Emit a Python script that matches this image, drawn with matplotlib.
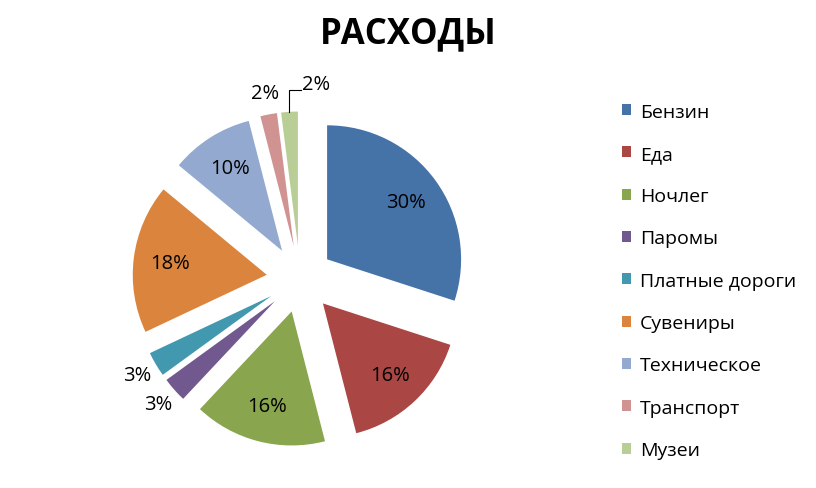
import numpy as np
import matplotlib
matplotlib.use("Agg")
import matplotlib.pyplot as plt

plt.rcParams['font.family'] = ['Open Sans', 'DejaVu Sans']

# Expense shares, in percent
categories = ['Бензин', 'Еда', 'Ночлег', 'Паромы', 'Платные дороги',
              'Сувениры', 'Техническое', 'Транспорт', 'Музеи']
shares = [30, 16, 16, 3, 3, 18, 10, 2, 2]
colours = ['#4572A7', '#AA4643', '#89A54E', '#71588F', '#4198AF',
           '#DB843D', '#93A9CF', '#D19392', '#B9CD96']
# labels of the thin slices go outside the pie
outside = {'Паромы', 'Платные дороги', 'Транспорт', 'Музеи'}

W, H = 816, 489
fig = plt.figure(figsize=(W / 100, H / 100), dpi=100)

# Pie axes: centre at (300, 280) px from top-left, radius 134 px
R = 134.0
cx, cy = 300.0, 280.0
left, right, top, bottom = 100.0, 500.0, 60.0, 480.0
ax = fig.add_axes([left / W, (H - bottom) / H, (right - left) / W, (bottom - top) / H])

explode = [0.25] * len(shares)
wedges, _ = ax.pie(shares, colors=colours, explode=explode, startangle=90,
                   counterclock=False, radius=1.0,
                   wedgeprops=dict(linewidth=0))
ax.set_xlim((left - cx) / R, (right - cx) / R)
ax.set_ylim((cy - bottom) / R, (cy - top) / R)
ax.set_aspect('auto')
ax.axis('off')

for wedge, name, share in zip(wedges, categories, shares):
    theta = np.deg2rad((wedge.theta1 + wedge.theta2) / 2)
    ox, oy = wedge.center
    label = f'{share}%'
    if name not in outside:
        d = 0.73
        ax.text(ox + d * np.cos(theta), oy + d * np.sin(theta), label,
                ha='center', va='center', fontsize=14.5)
    elif name == 'Музеи':
        # leader line: up from the arc, then right to the label
        x0, y0 = ox + np.cos(theta), oy + np.sin(theta)
        y1 = y0 + 0.16
        x1 = x0 + 0.085
        ax.plot([x0, x0, x1], [y0, y1, y1], color='black', lw=0.8)
        ax.text(x1 + 0.01, y1 + 0.05, label, ha='left', va='center', fontsize=14.5)
    else:
        d = 1.16
        ax.text(ox + d * np.cos(theta), oy + d * np.sin(theta), label,
                ha='center', va='center', fontsize=14.5)

fig.text(408 / W, 1 - 34 / H, 'РАСХОДЫ', ha='center', va='center',
         fontsize=25, fontweight='bold')

fig.legend(wedges, categories, loc='upper left',
           bbox_to_anchor=(604 / W, 1 - 86 / H), frameon=False,
           fontsize=14, handlelength=0.5, handleheight=0.5,
           handletextpad=0.45, labelspacing=1.25)

fig.savefig('out.png', dpi=100)
